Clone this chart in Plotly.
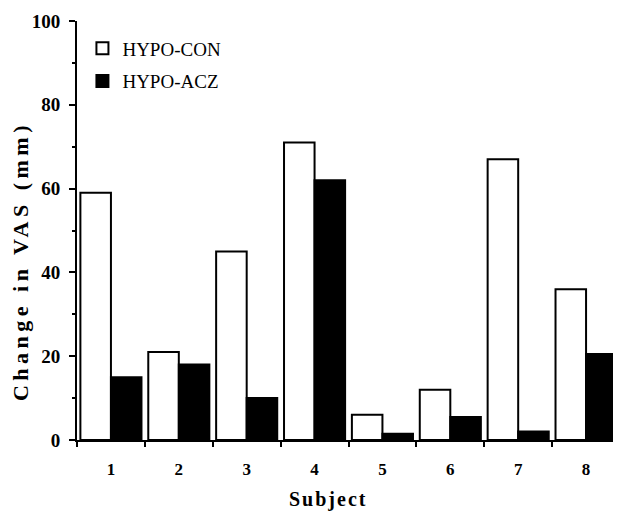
import plotly.graph_objects as go

subjects = ["1", "2", "3", "4", "5", "6", "7", "8"]
hypo_con = [59, 21, 45, 71, 6, 12, 67, 36]
hypo_acz = [15, 18, 10, 62, 1.5, 5.5, 2, 20.5]

serif = "Liberation Serif, Times New Roman, serif"

fig = go.Figure()
fig.add_trace(go.Bar(x=subjects, y=hypo_con, name="HYPO-CON", legendgroup="a",
                     marker=dict(color="white", line=dict(color="black", width=2))))
fig.add_trace(go.Bar(x=subjects, y=hypo_acz, name="HYPO-ACZ", legendgroup="b",
                     marker=dict(color="black", line=dict(color="black", width=2))))

# page body has an 8px default margin, so the figure is 8px smaller than the window
fig.update_layout(
    width=613, height=503,
    margin=dict(l=69, r=1, t=13, b=71, autoexpand=False),
    paper_bgcolor="white", plot_bgcolor="white",
    barmode="group", bargap=0.1, bargroupgap=0,
    font=dict(family=serif, color="black"),
    legend=dict(x=0.01, y=0.98, xanchor="left", yanchor="top",
                font=dict(family=serif, size=19, color="black"),
                tracegroupgap=5, bgcolor="rgba(0,0,0,0)"),
    xaxis=dict(type="category", tickson="boundaries", ticks="outside", ticklen=5,
               tickwidth=2, tickcolor="black", showline=True, linewidth=2, linecolor="black",
               tickfont=dict(family=serif, size=17, weight="bold"), ticklabelstandoff=13,
               automargin=False, showgrid=False, zeroline=False),
    yaxis=dict(range=[0, 100], dtick=20, ticks="outside", ticklen=6, tickwidth=2,
               tickcolor="black", showline=True, linewidth=2, linecolor="black",
               minor=dict(dtick=10, ticks="outside", ticklen=3, tickwidth=2, tickcolor="black"),
               tickfont=dict(family=serif, size=19, weight="bold"), ticklabelstandoff=5,
               automargin=False, showgrid=False, zeroline=False),
    annotations=[
        dict(text='<span style="letter-spacing:4.5px">Change in VAS (mm)</span>',
             xref="paper", yref="paper", x=-0.105, y=0.427, textangle=-90,
             showarrow=False, xanchor="center", yanchor="middle",
             font=dict(family=serif, size=22, weight="bold", color="black")),
        dict(text='<span style="letter-spacing:2px">Subject</span>',
             xref="paper", yref="paper", x=0.463, y=-0.143,
             showarrow=False, xanchor="center", yanchor="middle",
             font=dict(family=serif, size=20, weight="bold", color="black")),
    ],
)

fig.write_html("out.html")
